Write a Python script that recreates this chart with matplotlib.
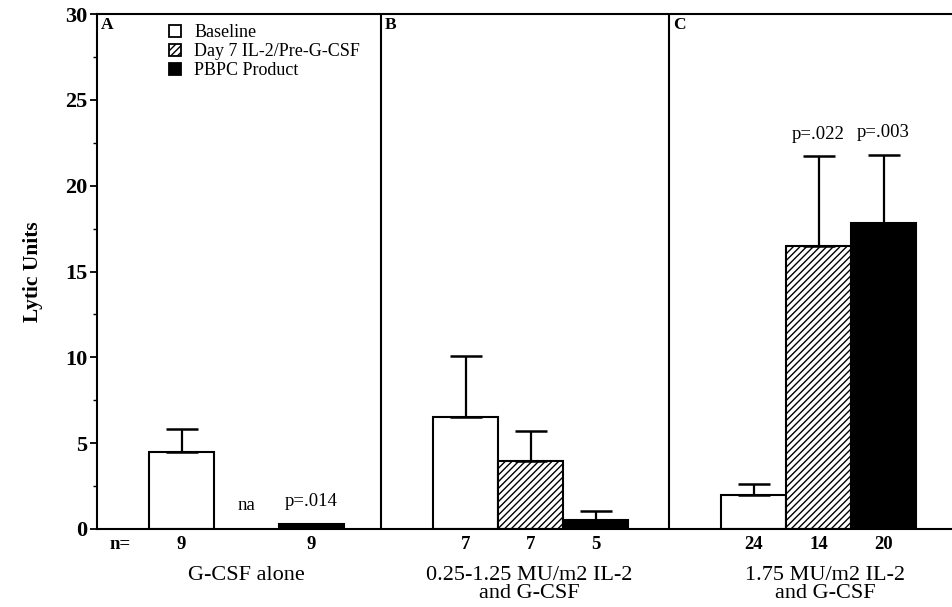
import numpy as np
import matplotlib.pyplot as plt
from matplotlib.patches import Patch

plt.rcParams['font.family'] = ['Liberation Serif', 'DejaVu Serif']

# Data
groups = ["G-CSF alone", "0.25-1.25 MU/m2 IL-2\nand G-CSF", "1.75 MU/m2 IL-2\nand G-CSF"]
panels = ["A", "B", "C"]
series = ["Baseline", "Day 7 IL-2/Pre-G-CSF", "PBPC Product"]
means = [[4.5, np.nan, 0.3],
         [6.5, 3.95, 0.55],
         [2.0, 16.5, 17.85]]
errs = [[1.3, np.nan, 0.0],
        [3.6, 1.75, 0.5],
        [0.65, 5.2, 3.95]]
n_labels = [["9", "", "9"], ["7", "7", "5"], ["24", "14", "20"]]
p_labels = [["", "na", "p=.014"], ["", "", ""], ["", "p=.022", "p=.003"]]

styles = [dict(facecolor="white", hatch=None),
          dict(facecolor="white", hatch="/////"),
          dict(facecolor="black", hatch=None)]

fig = plt.figure(figsize=(9.53, 6.07), dpi=100)
ax = fig.add_axes([97 / 953, 1 - 529 / 607, 856 / 953, 515 / 607])

group_left = [0, 4.37, 8.8]
xmax = 856 / 65

for g in range(3):
    for i in range(3):
        x = group_left[g] + 1.3 + i
        m = means[g][i]
        if not np.isnan(m):
            ax.bar(x, m, width=1.0, edgecolor="black", linewidth=1.5, **styles[i])
            if errs[g][i] > 0:
                ax.errorbar(x, m, yerr=[[0], [errs[g][i]]], fmt="none", ecolor="black",
                            elinewidth=1.6, capsize=11.5, capthick=1.8)
        if n_labels[g][i]:
            ax.text(x, -0.9, n_labels[g][i], ha="center", va="center",
                    fontsize=13.5, fontweight="bold")
        if p_labels[g][i]:
            top = m + errs[g][i] if not np.isnan(m) else 0.0
            yy = top + 0.8 if p_labels[g][i] != "na" else 0.9
            ax.text(x, yy, p_labels[g][i], ha="center", va="bottom", fontsize=13.5)
    ax.text(group_left[g] + 0.06, 29.85, panels[g], ha="left", va="top",
            fontsize=12.5, fontweight="bold")
    if g > 0:
        ax.axvline(group_left[g], color="black", linewidth=1.5)

ax.text(0.35, -0.9, "n=", ha="center", va="center", fontsize=13.5, fontweight="bold")
centers = [2.3, 6.65, 11.2]
for g in range(3):
    ax.text(centers[g], -2.15, groups[g], ha="center", va="top", fontsize=16,
            linespacing=0.92)

ax.set_xlim(0, xmax)
ax.set_ylim(0, 30)
ax.set_yticks(np.arange(0, 31, 5))
ax.set_yticks(np.arange(0, 30, 2.5), minor=True)
ax.set_xticks([])
ax.tick_params(axis="y", which="major", length=5, width=1.3, labelsize=16, pad=2)
ax.tick_params(axis="y", which="minor", length=3, width=1.0)
for lab in ax.get_yticklabels():
    lab.set_fontweight("bold")
ax.spines["right"].set_visible(False)
for s in ["left", "top", "bottom"]:
    ax.spines[s].set_linewidth(1.5)
ax.set_ylabel("Lytic Units", fontsize=15.5, fontweight="bold", labelpad=16)

handles = [Patch(edgecolor="black", linewidth=1.3, label=series[i], **styles[i]) for i in range(3)]
ax.legend(handles=handles, loc="upper left", bbox_to_anchor=(0.065, 1.012), frameon=False,
          fontsize=13, handlelength=0.65, handleheight=0.65, handletextpad=0.75,
          labelspacing=0.12)

fig.savefig("out.png", dpi=100)
